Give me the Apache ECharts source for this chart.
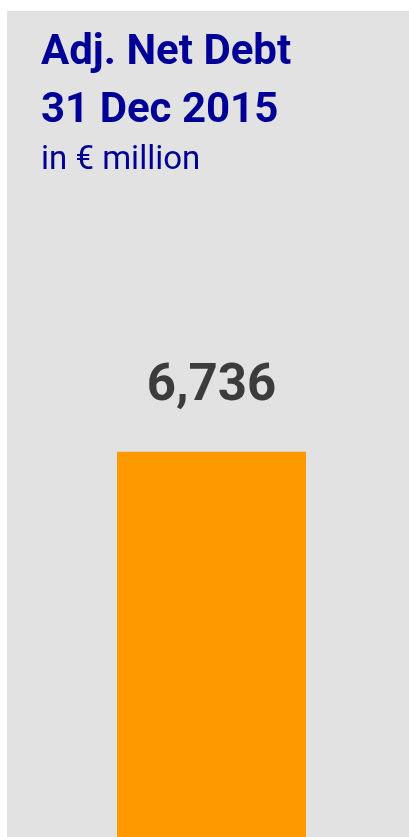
<!DOCTYPE html>
<html>
<head>
<meta charset="utf-8">
<script src="https://cdn.jsdelivr.net/npm/echarts@6/dist/echarts.min.js"></script>
<style>
  html, body { margin: 0; padding: 0; background: #ffffff; }
  #chart { width: 409px; height: 837px; }
</style>
</head>
<body>
<div id="chart"></div>
<script>
// Single-bar figure: adjusted net debt at year end
const categories = ['31 Dec 2015'];
const netDebt = [6736];
const titleLines = ['Adj. Net Debt', '31 Dec 2015'];
const unitLine = 'in € million';

const chart = echarts.init(document.getElementById('chart'), null, { renderer: 'canvas' });

const titleColor = '#000096';
const fontFamily = 'Roboto, "Noto Sans", sans-serif';

chart.setOption({
  animation: false,
  backgroundColor: '#ffffff',
  grid: { left: 14, right: 0, top: 265, bottom: 0 },
  xAxis: {
    type: 'category',
    data: categories,
    show: false
  },
  yAxis: {
    type: 'value',
    min: 0,
    max: 10000,
    show: false
  },
  graphic: [
    {
      type: 'rect',
      z: -10,
      silent: true,
      shape: { x: 7, y: 11, width: 402, height: 826 },
      style: { fill: '#e2e2e2' }
    },
    {
      type: 'text',
      left: 41,
      top: 24,
      style: {
        text: titleLines.join('\n'),
        fill: titleColor,
        font: 'bold 42px ' + fontFamily,
        lineHeight: 58
      }
    },
    {
      type: 'text',
      left: 41,
      top: 144,
      style: {
        text: unitLine,
        fill: titleColor,
        font: '33px ' + fontFamily
      }
    }
  ],
  series: [
    {
      type: 'bar',
      data: netDebt,
      barWidth: 189,
      itemStyle: { color: '#ff9900' },
      label: {
        show: true,
        position: 'top',
        distance: 39,
        color: '#3c3c3c',
        fontFamily: fontFamily,
        fontWeight: 'bold',
        fontSize: 51,
        formatter: (p) => p.value.toLocaleString('en-US')
      }
    }
  ]
});
</script>
</body>
</html>
